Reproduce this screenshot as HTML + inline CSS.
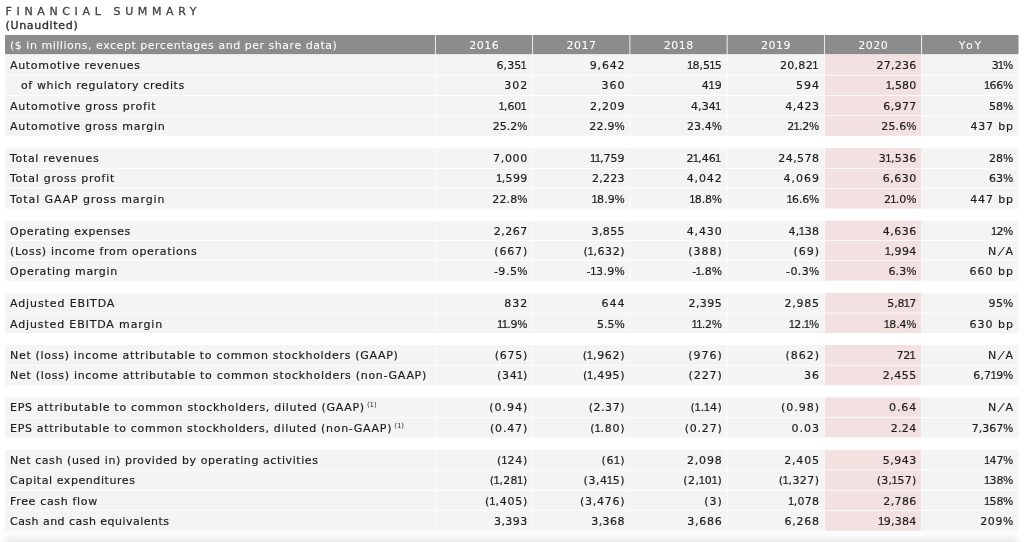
<!DOCTYPE html>
<html lang="en"><head><meta charset="utf-8"><title>Financial Summary</title>
<style>
html,body{margin:0;padding:0;background:#fff;}
body{width:1030px;height:542px;position:relative;overflow:hidden;font-family:"DejaVu Sans", "Liberation Sans", sans-serif;font-size:11px;color:#1e1e1e;}
svg.bg{position:absolute;left:0;top:0;}
.x{position:absolute;white-space:nowrap;line-height:20px;height:20px;}
.l{-webkit-text-stroke:0.2px #1e1e1e;}
.n{text-align:right;letter-spacing:0.3px;-webkit-text-stroke:0.2px #1e1e1e;}
.h{color:#fff;-webkit-text-stroke:0.05px #fff;}
.hc{text-align:center;letter-spacing:0.5px;}
.t{left:5.6px;top:1.5px;font-size:11px;letter-spacing:4.63px;color:#444;-webkit-text-stroke:0.3px #444;}
.u{left:5.4px;top:15.5px;font-size:11px;letter-spacing:0.7px;color:#333;-webkit-text-stroke:0.4px #333;}
.n i{font-style:normal;line-height:0;font-family:"Liberation Sans",sans-serif;font-size:11.2px;margin:0 -0.7px 0 -0.8px;}
.n i.e{margin-right:0.6px;}
.n b{font-weight:normal;line-height:0;font-family:"Liberation Sans",sans-serif;font-size:11px;margin:0 0px 0 0px;}
.n u{text-decoration:none;display:inline-block;line-height:0;transform:skewX(-20deg);margin:0 1.8px;}
sup{font-size:7px;line-height:0;vertical-align:baseline;position:relative;top:-3.8px;letter-spacing:0;margin-left:2px;-webkit-text-stroke:0;}
</style></head><body>
<svg class="bg" width="1030" height="542" viewBox="0 0 1030 542">
<rect x="5.00" y="35.00" width="429.97" height="19.40" fill="#8c8c8c"/>
<rect x="435.82" y="35.00" width="96.40" height="19.40" fill="#8c8c8c"/>
<rect x="533.07" y="35.00" width="96.40" height="19.40" fill="#8c8c8c"/>
<rect x="630.32" y="35.00" width="96.40" height="19.40" fill="#8c8c8c"/>
<rect x="727.57" y="35.00" width="96.40" height="19.40" fill="#8c8c8c"/>
<rect x="824.82" y="35.00" width="96.40" height="19.40" fill="#8c8c8c"/>
<rect x="922.07" y="35.00" width="96.43" height="19.40" fill="#8c8c8c"/>
<rect x="5.00" y="54.40" width="430.10" height="20.43" fill="#f4f4f4"/>
<rect x="435.70" y="54.40" width="96.65" height="20.43" fill="#f4f4f4"/>
<rect x="532.95" y="54.40" width="96.65" height="20.43" fill="#f4f4f4"/>
<rect x="630.20" y="54.40" width="96.65" height="20.43" fill="#f4f4f4"/>
<rect x="727.45" y="54.40" width="96.65" height="20.43" fill="#f4f4f4"/>
<rect x="824.70" y="54.40" width="96.65" height="20.43" fill="#f3e1e1"/>
<rect x="921.95" y="54.40" width="96.55" height="20.43" fill="#f4f4f4"/>
<rect x="5.00" y="75.58" width="430.10" height="19.45" fill="#f4f4f4"/>
<rect x="435.70" y="75.58" width="96.65" height="19.45" fill="#f4f4f4"/>
<rect x="532.95" y="75.58" width="96.65" height="19.45" fill="#f4f4f4"/>
<rect x="630.20" y="75.58" width="96.65" height="19.45" fill="#f4f4f4"/>
<rect x="727.45" y="75.58" width="96.65" height="19.45" fill="#f4f4f4"/>
<rect x="824.70" y="75.58" width="96.65" height="19.45" fill="#f3e1e1"/>
<rect x="921.95" y="75.58" width="96.55" height="19.45" fill="#f4f4f4"/>
<rect x="5.00" y="95.78" width="430.10" height="19.55" fill="#f4f4f4"/>
<rect x="435.70" y="95.78" width="96.65" height="19.55" fill="#f4f4f4"/>
<rect x="532.95" y="95.78" width="96.65" height="19.55" fill="#f4f4f4"/>
<rect x="630.20" y="95.78" width="96.65" height="19.55" fill="#f4f4f4"/>
<rect x="727.45" y="95.78" width="96.65" height="19.55" fill="#f4f4f4"/>
<rect x="824.70" y="95.78" width="96.65" height="19.55" fill="#f3e1e1"/>
<rect x="921.95" y="95.78" width="96.55" height="19.55" fill="#f4f4f4"/>
<rect x="5.00" y="116.08" width="430.10" height="19.73" fill="#f4f4f4"/>
<rect x="435.70" y="116.08" width="96.65" height="19.73" fill="#f4f4f4"/>
<rect x="532.95" y="116.08" width="96.65" height="19.73" fill="#f4f4f4"/>
<rect x="630.20" y="116.08" width="96.65" height="19.73" fill="#f4f4f4"/>
<rect x="727.45" y="116.08" width="96.65" height="19.73" fill="#f4f4f4"/>
<rect x="824.70" y="116.08" width="96.65" height="19.73" fill="#f3e1e1"/>
<rect x="921.95" y="116.08" width="96.55" height="19.73" fill="#f4f4f4"/>
<rect x="5.00" y="148.20" width="430.10" height="19.83" fill="#f4f4f4"/>
<rect x="435.70" y="148.20" width="96.65" height="19.83" fill="#f4f4f4"/>
<rect x="532.95" y="148.20" width="96.65" height="19.83" fill="#f4f4f4"/>
<rect x="630.20" y="148.20" width="96.65" height="19.83" fill="#f4f4f4"/>
<rect x="727.45" y="148.20" width="96.65" height="19.83" fill="#f4f4f4"/>
<rect x="824.70" y="148.20" width="96.65" height="19.83" fill="#f3e1e1"/>
<rect x="921.95" y="148.20" width="96.55" height="19.83" fill="#f4f4f4"/>
<rect x="5.00" y="168.78" width="430.10" height="19.35" fill="#f4f4f4"/>
<rect x="435.70" y="168.78" width="96.65" height="19.35" fill="#f4f4f4"/>
<rect x="532.95" y="168.78" width="96.65" height="19.35" fill="#f4f4f4"/>
<rect x="630.20" y="168.78" width="96.65" height="19.35" fill="#f4f4f4"/>
<rect x="727.45" y="168.78" width="96.65" height="19.35" fill="#f4f4f4"/>
<rect x="824.70" y="168.78" width="96.65" height="19.35" fill="#f3e1e1"/>
<rect x="921.95" y="168.78" width="96.55" height="19.35" fill="#f4f4f4"/>
<rect x="5.00" y="188.88" width="430.10" height="19.72" fill="#f4f4f4"/>
<rect x="435.70" y="188.88" width="96.65" height="19.72" fill="#f4f4f4"/>
<rect x="532.95" y="188.88" width="96.65" height="19.72" fill="#f4f4f4"/>
<rect x="630.20" y="188.88" width="96.65" height="19.72" fill="#f4f4f4"/>
<rect x="727.45" y="188.88" width="96.65" height="19.72" fill="#f4f4f4"/>
<rect x="824.70" y="188.88" width="96.65" height="19.72" fill="#f3e1e1"/>
<rect x="921.95" y="188.88" width="96.55" height="19.72" fill="#f4f4f4"/>
<rect x="5.00" y="220.70" width="430.10" height="19.53" fill="#f4f4f4"/>
<rect x="435.70" y="220.70" width="96.65" height="19.53" fill="#f4f4f4"/>
<rect x="532.95" y="220.70" width="96.65" height="19.53" fill="#f4f4f4"/>
<rect x="630.20" y="220.70" width="96.65" height="19.53" fill="#f4f4f4"/>
<rect x="727.45" y="220.70" width="96.65" height="19.53" fill="#f4f4f4"/>
<rect x="824.70" y="220.70" width="96.65" height="19.53" fill="#f3e1e1"/>
<rect x="921.95" y="220.70" width="96.55" height="19.53" fill="#f4f4f4"/>
<rect x="5.00" y="240.97" width="430.10" height="19.15" fill="#f4f4f4"/>
<rect x="435.70" y="240.97" width="96.65" height="19.15" fill="#f4f4f4"/>
<rect x="532.95" y="240.97" width="96.65" height="19.15" fill="#f4f4f4"/>
<rect x="630.20" y="240.97" width="96.65" height="19.15" fill="#f4f4f4"/>
<rect x="727.45" y="240.97" width="96.65" height="19.15" fill="#f4f4f4"/>
<rect x="824.70" y="240.97" width="96.65" height="19.15" fill="#f3e1e1"/>
<rect x="921.95" y="240.97" width="96.55" height="19.15" fill="#f4f4f4"/>
<rect x="5.00" y="260.88" width="430.10" height="19.82" fill="#f4f4f4"/>
<rect x="435.70" y="260.88" width="96.65" height="19.82" fill="#f4f4f4"/>
<rect x="532.95" y="260.88" width="96.65" height="19.82" fill="#f4f4f4"/>
<rect x="630.20" y="260.88" width="96.65" height="19.82" fill="#f4f4f4"/>
<rect x="727.45" y="260.88" width="96.65" height="19.82" fill="#f4f4f4"/>
<rect x="824.70" y="260.88" width="96.65" height="19.82" fill="#f3e1e1"/>
<rect x="921.95" y="260.88" width="96.55" height="19.82" fill="#f4f4f4"/>
<rect x="5.00" y="292.85" width="430.10" height="19.88" fill="#f4f4f4"/>
<rect x="435.70" y="292.85" width="96.65" height="19.88" fill="#f4f4f4"/>
<rect x="532.95" y="292.85" width="96.65" height="19.88" fill="#f4f4f4"/>
<rect x="630.20" y="292.85" width="96.65" height="19.88" fill="#f4f4f4"/>
<rect x="727.45" y="292.85" width="96.65" height="19.88" fill="#f4f4f4"/>
<rect x="824.70" y="292.85" width="96.65" height="19.88" fill="#f3e1e1"/>
<rect x="921.95" y="292.85" width="96.55" height="19.88" fill="#f4f4f4"/>
<rect x="5.00" y="313.48" width="430.10" height="19.62" fill="#f4f4f4"/>
<rect x="435.70" y="313.48" width="96.65" height="19.62" fill="#f4f4f4"/>
<rect x="532.95" y="313.48" width="96.65" height="19.62" fill="#f4f4f4"/>
<rect x="630.20" y="313.48" width="96.65" height="19.62" fill="#f4f4f4"/>
<rect x="727.45" y="313.48" width="96.65" height="19.62" fill="#f4f4f4"/>
<rect x="824.70" y="313.48" width="96.65" height="19.62" fill="#f3e1e1"/>
<rect x="921.95" y="313.48" width="96.55" height="19.62" fill="#f4f4f4"/>
<rect x="5.00" y="345.00" width="430.10" height="19.93" fill="#f4f4f4"/>
<rect x="435.70" y="345.00" width="96.65" height="19.93" fill="#f4f4f4"/>
<rect x="532.95" y="345.00" width="96.65" height="19.93" fill="#f4f4f4"/>
<rect x="630.20" y="345.00" width="96.65" height="19.93" fill="#f4f4f4"/>
<rect x="727.45" y="345.00" width="96.65" height="19.93" fill="#f4f4f4"/>
<rect x="824.70" y="345.00" width="96.65" height="19.93" fill="#f3e1e1"/>
<rect x="921.95" y="345.00" width="96.55" height="19.93" fill="#f4f4f4"/>
<rect x="5.00" y="365.68" width="430.10" height="19.68" fill="#f4f4f4"/>
<rect x="435.70" y="365.68" width="96.65" height="19.68" fill="#f4f4f4"/>
<rect x="532.95" y="365.68" width="96.65" height="19.68" fill="#f4f4f4"/>
<rect x="630.20" y="365.68" width="96.65" height="19.68" fill="#f4f4f4"/>
<rect x="727.45" y="365.68" width="96.65" height="19.68" fill="#f4f4f4"/>
<rect x="824.70" y="365.68" width="96.65" height="19.68" fill="#f3e1e1"/>
<rect x="921.95" y="365.68" width="96.55" height="19.68" fill="#f4f4f4"/>
<rect x="5.00" y="397.50" width="430.10" height="19.52" fill="#f4f4f4"/>
<rect x="435.70" y="397.50" width="96.65" height="19.52" fill="#f4f4f4"/>
<rect x="532.95" y="397.50" width="96.65" height="19.52" fill="#f4f4f4"/>
<rect x="630.20" y="397.50" width="96.65" height="19.52" fill="#f4f4f4"/>
<rect x="727.45" y="397.50" width="96.65" height="19.52" fill="#f4f4f4"/>
<rect x="824.70" y="397.50" width="96.65" height="19.52" fill="#f3e1e1"/>
<rect x="921.95" y="397.50" width="96.55" height="19.52" fill="#f4f4f4"/>
<rect x="5.00" y="417.77" width="430.10" height="19.73" fill="#f4f4f4"/>
<rect x="435.70" y="417.77" width="96.65" height="19.73" fill="#f4f4f4"/>
<rect x="532.95" y="417.77" width="96.65" height="19.73" fill="#f4f4f4"/>
<rect x="630.20" y="417.77" width="96.65" height="19.73" fill="#f4f4f4"/>
<rect x="727.45" y="417.77" width="96.65" height="19.73" fill="#f4f4f4"/>
<rect x="824.70" y="417.77" width="96.65" height="19.73" fill="#f3e1e1"/>
<rect x="921.95" y="417.77" width="96.55" height="19.73" fill="#f4f4f4"/>
<rect x="5.00" y="449.80" width="430.10" height="19.82" fill="#f4f4f4"/>
<rect x="435.70" y="449.80" width="96.65" height="19.82" fill="#f4f4f4"/>
<rect x="532.95" y="449.80" width="96.65" height="19.82" fill="#f4f4f4"/>
<rect x="630.20" y="449.80" width="96.65" height="19.82" fill="#f4f4f4"/>
<rect x="727.45" y="449.80" width="96.65" height="19.82" fill="#f4f4f4"/>
<rect x="824.70" y="449.80" width="96.65" height="19.82" fill="#f3e1e1"/>
<rect x="921.95" y="449.80" width="96.55" height="19.82" fill="#f4f4f4"/>
<rect x="5.00" y="470.38" width="430.10" height="19.65" fill="#f4f4f4"/>
<rect x="435.70" y="470.38" width="96.65" height="19.65" fill="#f4f4f4"/>
<rect x="532.95" y="470.38" width="96.65" height="19.65" fill="#f4f4f4"/>
<rect x="630.20" y="470.38" width="96.65" height="19.65" fill="#f4f4f4"/>
<rect x="727.45" y="470.38" width="96.65" height="19.65" fill="#f4f4f4"/>
<rect x="824.70" y="470.38" width="96.65" height="19.65" fill="#f3e1e1"/>
<rect x="921.95" y="470.38" width="96.55" height="19.65" fill="#f4f4f4"/>
<rect x="5.00" y="490.77" width="430.10" height="19.45" fill="#f4f4f4"/>
<rect x="435.70" y="490.77" width="96.65" height="19.45" fill="#f4f4f4"/>
<rect x="532.95" y="490.77" width="96.65" height="19.45" fill="#f4f4f4"/>
<rect x="630.20" y="490.77" width="96.65" height="19.45" fill="#f4f4f4"/>
<rect x="727.45" y="490.77" width="96.65" height="19.45" fill="#f4f4f4"/>
<rect x="824.70" y="490.77" width="96.65" height="19.45" fill="#f3e1e1"/>
<rect x="921.95" y="490.77" width="96.55" height="19.45" fill="#f4f4f4"/>
<rect x="5.00" y="510.98" width="430.10" height="19.73" fill="#f4f4f4"/>
<rect x="435.70" y="510.98" width="96.65" height="19.73" fill="#f4f4f4"/>
<rect x="532.95" y="510.98" width="96.65" height="19.73" fill="#f4f4f4"/>
<rect x="630.20" y="510.98" width="96.65" height="19.73" fill="#f4f4f4"/>
<rect x="727.45" y="510.98" width="96.65" height="19.73" fill="#f4f4f4"/>
<rect x="824.70" y="510.98" width="96.65" height="19.73" fill="#f3e1e1"/>
<rect x="921.95" y="510.98" width="96.55" height="19.73" fill="#f4f4f4"/>
<defs><filter id="sb" filterUnits="userSpaceOnUse" x="-40" y="480" width="1110" height="160"><feGaussianBlur stdDeviation="3 8"/></filter></defs>
<rect x="5" y="545" width="1013" height="60" fill="#000" fill-opacity="0.25" filter="url(#sb)"/>
</svg>

<div class="x t">FINANCIAL SUMMARY</div>
<div class="x u">(Unaudited)</div>
<div class="x h l" style="left:10.00px;top:36.09px;letter-spacing:0.525px;">($ in millions, except percentages and per share data)</div>
<div class="x h hc" style="left:435.40px;width:97.25px;top:36.09px;padding-left:0.5px;box-sizing:border-box;letter-spacing:0.5px;">2016</div>
<div class="x h hc" style="left:532.65px;width:97.25px;top:36.09px;padding-left:0.5px;box-sizing:border-box;letter-spacing:0.5px;">2017</div>
<div class="x h hc" style="left:629.90px;width:97.25px;top:36.09px;padding-left:0.5px;box-sizing:border-box;letter-spacing:0.5px;">2018</div>
<div class="x h hc" style="left:727.15px;width:97.25px;top:36.09px;padding-left:0.5px;box-sizing:border-box;letter-spacing:0.5px;">2019</div>
<div class="x h hc" style="left:824.40px;width:97.25px;top:36.09px;padding-left:0.5px;box-sizing:border-box;letter-spacing:0.5px;">2020</div>
<div class="x h hc" style="left:921.65px;width:96.85px;top:36.09px;padding-left:1.9px;box-sizing:border-box;letter-spacing:1.9px;">YoY</div>
<div class="x l" style="left:10.00px;top:55.69px;letter-spacing:0.675px;">Automotive revenues</div>
<div class="x n" style="left:435.40px;width:91.88px;top:55.69px;letter-spacing:0.030px;">6,35<i class="e">1</i></div>
<div class="x n" style="left:532.65px;width:92.64px;top:55.69px;letter-spacing:0.795px;">9,642</div>
<div class="x n" style="left:629.90px;width:91.83px;top:55.69px;letter-spacing:-0.024px;"><i>1</i>8,5<i>1</i>5</div>
<div class="x n" style="left:727.15px;width:92.15px;top:55.69px;letter-spacing:0.300px;">20,82<i class="e">1</i></div>
<div class="x n" style="left:824.40px;width:92.08px;top:55.69px;letter-spacing:0.228px;">27,236</div>
<div class="x n" style="left:921.65px;width:91.35px;top:55.69px;letter-spacing:-0.100px;">3<i>1</i><b>%</b></div>
<div class="x l" style="left:21.00px;top:75.69px;letter-spacing:0.617px;">of which regulatory credits</div>
<div class="x n" style="left:435.40px;width:92.85px;top:75.69px;letter-spacing:1.000px;">302</div>
<div class="x n" style="left:532.65px;width:92.85px;top:75.69px;letter-spacing:1.000px;">360</div>
<div class="x n" style="left:629.90px;width:92.49px;top:75.69px;letter-spacing:0.640px;">4<i>1</i>9</div>
<div class="x n" style="left:727.15px;width:92.85px;top:75.69px;letter-spacing:1.000px;">594</div>
<div class="x n" style="left:824.40px;width:91.97px;top:75.69px;letter-spacing:0.120px;"><i>1</i>,580</div>
<div class="x n" style="left:921.65px;width:91.38px;top:75.69px;letter-spacing:-0.070px;"><i>1</i>66<b>%</b></div>
<div class="x l" style="left:10.00px;top:96.69px;letter-spacing:0.743px;">Automotive gross profit</div>
<div class="x n" style="left:435.40px;width:91.75px;top:96.69px;letter-spacing:-0.100px;"><i>1</i>,60<i class="e">1</i></div>
<div class="x n" style="left:532.65px;width:92.60px;top:96.69px;letter-spacing:0.750px;">2,209</div>
<div class="x n" style="left:629.90px;width:91.88px;top:96.69px;letter-spacing:0.030px;">4,34<i class="e">1</i></div>
<div class="x n" style="left:727.15px;width:92.42px;top:96.69px;letter-spacing:0.570px;">4,423</div>
<div class="x n" style="left:824.40px;width:92.19px;top:96.69px;letter-spacing:0.345px;">6,977</div>
<div class="x n" style="left:921.65px;width:91.66px;top:96.69px;letter-spacing:0.210px;">58<b>%</b></div>
<div class="x l" style="left:10.00px;top:116.69px;letter-spacing:0.723px;">Automotive gross margin</div>
<div class="x n" style="left:435.40px;width:91.92px;top:116.69px;letter-spacing:0.075px;">25.2<b>%</b></div>
<div class="x n" style="left:532.65px;width:92.10px;top:116.69px;letter-spacing:0.255px;">22.9<b>%</b></div>
<div class="x n" style="left:629.90px;width:91.97px;top:116.69px;letter-spacing:0.120px;">23.4<b>%</b></div>
<div class="x n" style="left:727.15px;width:91.75px;top:116.69px;letter-spacing:-0.100px;">2<i>1</i>.2<b>%</b></div>
<div class="x n" style="left:824.40px;width:92.01px;top:116.69px;letter-spacing:0.165px;">25.6<b>%</b></div>
<div class="x n" style="left:921.65px;width:92.29px;top:116.69px;letter-spacing:0.840px;">437 bp</div>
<div class="x l" style="left:10.00px;top:148.69px;letter-spacing:0.669px;">Total revenues</div>
<div class="x n" style="left:435.40px;width:92.51px;top:148.69px;letter-spacing:0.660px;">7,000</div>
<div class="x n" style="left:532.65px;width:91.79px;top:148.69px;letter-spacing:-0.064px;"><i>1</i><i>1</i>,759</div>
<div class="x n" style="left:629.90px;width:91.86px;top:148.69px;letter-spacing:0.012px;">2<i>1</i>,46<i class="e">1</i></div>
<div class="x n" style="left:727.15px;width:92.29px;top:148.69px;letter-spacing:0.444px;">24,578</div>
<div class="x n" style="left:824.40px;width:92.08px;top:148.69px;letter-spacing:0.228px;">3<i>1</i>,536</div>
<div class="x n" style="left:921.65px;width:91.66px;top:148.69px;letter-spacing:0.210px;">28<b>%</b></div>
<div class="x l" style="left:10.00px;top:168.69px;letter-spacing:0.759px;">Total gross profit</div>
<div class="x n" style="left:435.40px;width:92.15px;top:168.69px;letter-spacing:0.300px;"><i>1</i>,599</div>
<div class="x n" style="left:532.65px;width:92.10px;top:168.69px;letter-spacing:0.255px;">2,223</div>
<div class="x n" style="left:629.90px;width:92.73px;top:168.69px;letter-spacing:0.885px;">4,042</div>
<div class="x n" style="left:727.15px;width:92.85px;top:168.69px;letter-spacing:1.000px;">4,069</div>
<div class="x n" style="left:824.40px;width:92.38px;top:168.69px;letter-spacing:0.525px;">6,630</div>
<div class="x n" style="left:921.65px;width:91.66px;top:168.69px;letter-spacing:0.210px;">63<b>%</b></div>
<div class="x l" style="left:10.00px;top:189.69px;letter-spacing:0.886px;">Total GAAP gross margin</div>
<div class="x n" style="left:435.40px;width:92.01px;top:189.69px;letter-spacing:0.165px;">22.8<b>%</b></div>
<div class="x n" style="left:532.65px;width:91.88px;top:189.69px;letter-spacing:0.030px;"><i>1</i>8.9<b>%</b></div>
<div class="x n" style="left:629.90px;width:91.75px;top:189.69px;letter-spacing:-0.100px;"><i>1</i>8.8<b>%</b></div>
<div class="x n" style="left:727.15px;width:91.75px;top:189.69px;letter-spacing:-0.100px;"><i>1</i>6.6<b>%</b></div>
<div class="x n" style="left:824.40px;width:91.92px;top:189.69px;letter-spacing:0.075px;">2<i>1</i>.0<b>%</b></div>
<div class="x n" style="left:921.65px;width:92.33px;top:189.69px;letter-spacing:0.876px;">447 bp</div>
<div class="x l" style="left:10.00px;top:221.69px;letter-spacing:0.574px;">Operating expenses</div>
<div class="x n" style="left:435.40px;width:92.33px;top:221.69px;letter-spacing:0.480px;">2,267</div>
<div class="x n" style="left:532.65px;width:92.19px;top:221.69px;letter-spacing:0.345px;">3,855</div>
<div class="x n" style="left:629.90px;width:92.73px;top:221.69px;letter-spacing:0.885px;">4,430</div>
<div class="x n" style="left:727.15px;width:92.15px;top:221.69px;letter-spacing:0.300px;">4,<i>1</i>38</div>
<div class="x n" style="left:824.40px;width:92.33px;top:221.69px;letter-spacing:0.480px;">4,636</div>
<div class="x n" style="left:921.65px;width:91.35px;top:221.69px;letter-spacing:-0.100px;"><i>1</i>2<b>%</b></div>
<div class="x l" style="left:10.00px;top:241.69px;letter-spacing:0.680px;">(Loss) income from operations</div>
<div class="x n" style="left:435.40px;width:92.69px;top:241.69px;letter-spacing:0.840px;">(667)</div>
<div class="x n" style="left:532.65px;width:92.39px;top:241.69px;letter-spacing:0.540px;">(<i>1</i>,632)</div>
<div class="x n" style="left:629.90px;width:92.85px;top:241.69px;letter-spacing:1.000px;">(388)</div>
<div class="x n" style="left:727.15px;width:92.85px;top:241.69px;letter-spacing:1.000px;">(69)</div>
<div class="x n" style="left:824.40px;width:92.19px;top:241.69px;letter-spacing:0.345px;"><i>1</i>,994</div>
<div class="x n" style="left:921.65px;width:92.45px;top:241.69px;letter-spacing:1.000px;">N<u>/</u>A</div>
<div class="x l" style="left:10.00px;top:261.69px;letter-spacing:0.660px;">Operating margin</div>
<div class="x n" style="left:435.40px;width:92.38px;top:261.69px;letter-spacing:0.525px;">-9.5<b>%</b></div>
<div class="x n" style="left:532.65px;width:92.22px;top:261.69px;letter-spacing:0.372px;">-<i>1</i>3.9<b>%</b></div>
<div class="x n" style="left:629.90px;width:91.97px;top:261.69px;letter-spacing:0.120px;">-<i>1</i>.8<b>%</b></div>
<div class="x n" style="left:727.15px;width:92.28px;top:261.69px;letter-spacing:0.435px;">-0.3<b>%</b></div>
<div class="x n" style="left:824.40px;width:92.03px;top:261.69px;letter-spacing:0.180px;">6.3<b>%</b></div>
<div class="x n" style="left:921.65px;width:92.45px;top:261.69px;letter-spacing:1.000px;">660 bp</div>
<div class="x l" style="left:10.00px;top:293.69px;letter-spacing:0.889px;">Adjusted EBITDA</div>
<div class="x n" style="left:435.40px;width:92.85px;top:293.69px;letter-spacing:1.000px;">832</div>
<div class="x n" style="left:532.65px;width:92.85px;top:293.69px;letter-spacing:1.000px;">644</div>
<div class="x n" style="left:629.90px;width:92.28px;top:293.69px;letter-spacing:0.435px;">2,395</div>
<div class="x n" style="left:727.15px;width:92.60px;top:293.69px;letter-spacing:0.750px;">2,985</div>
<div class="x n" style="left:824.40px;width:91.80px;top:293.69px;letter-spacing:-0.055px;">5,8<i>1</i>7</div>
<div class="x n" style="left:921.65px;width:91.84px;top:293.69px;letter-spacing:0.390px;">95<b>%</b></div>
<div class="x l" style="left:10.00px;top:314.69px;letter-spacing:0.857px;">Adjusted EBITDA margin</div>
<div class="x n" style="left:435.40px;width:91.75px;top:314.69px;letter-spacing:-0.100px;"><i>1</i><i>1</i>.9<b>%</b></div>
<div class="x n" style="left:532.65px;width:91.93px;top:314.69px;letter-spacing:0.080px;">5.5<b>%</b></div>
<div class="x n" style="left:629.90px;width:91.75px;top:314.69px;letter-spacing:-0.100px;"><i>1</i><i>1</i>.2<b>%</b></div>
<div class="x n" style="left:727.15px;width:91.75px;top:314.69px;letter-spacing:-0.100px;"><i>1</i>2.<i>1</i><b>%</b></div>
<div class="x n" style="left:824.40px;width:91.75px;top:314.69px;letter-spacing:-0.100px;"><i>1</i>8.4<b>%</b></div>
<div class="x n" style="left:921.65px;width:92.45px;top:314.69px;letter-spacing:1.000px;">630 bp</div>
<div class="x l" style="left:10.00px;top:345.69px;letter-spacing:0.699px;">Net (loss) income attributable to common stockholders (GAAP)</div>
<div class="x n" style="left:435.40px;width:92.60px;top:345.69px;letter-spacing:0.750px;">(675)</div>
<div class="x n" style="left:532.65px;width:92.51px;top:345.69px;letter-spacing:0.660px;">(<i>1</i>,962)</div>
<div class="x n" style="left:629.90px;width:92.85px;top:345.69px;letter-spacing:1.000px;">(976)</div>
<div class="x n" style="left:727.15px;width:92.85px;top:345.69px;letter-spacing:1.000px;">(862)</div>
<div class="x n" style="left:824.40px;width:91.75px;top:345.69px;letter-spacing:-0.100px;">72<i class="e">1</i></div>
<div class="x n" style="left:921.65px;width:92.45px;top:345.69px;letter-spacing:1.000px;">N<u>/</u>A</div>
<div class="x l" style="left:10.00px;top:365.69px;letter-spacing:0.707px;">Net (loss) income attributable to common stockholders (non-GAAP)</div>
<div class="x n" style="left:435.40px;width:92.55px;top:365.69px;letter-spacing:0.705px;">(34<i>1</i>)</div>
<div class="x n" style="left:532.65px;width:92.48px;top:365.69px;letter-spacing:0.630px;">(<i>1</i>,495)</div>
<div class="x n" style="left:629.90px;width:92.73px;top:365.69px;letter-spacing:0.885px;">(227)</div>
<div class="x n" style="left:727.15px;width:92.85px;top:365.69px;letter-spacing:1.000px;">36</div>
<div class="x n" style="left:824.40px;width:92.38px;top:365.69px;letter-spacing:0.525px;">2,455</div>
<div class="x n" style="left:921.65px;width:91.61px;top:365.69px;letter-spacing:0.156px;">6,7<i>1</i>9<b>%</b></div>
<div class="x l" style="left:10.00px;top:397.69px;letter-spacing:0.708px;">EPS attributable to common stockholders, diluted (GAAP)<sup>(1)</sup></div>
<div class="x n" style="left:435.40px;width:92.85px;top:397.69px;letter-spacing:1.000px;">(0.94)</div>
<div class="x n" style="left:532.65px;width:92.40px;top:397.69px;letter-spacing:0.552px;">(2.37)</div>
<div class="x n" style="left:629.90px;width:92.37px;top:397.69px;letter-spacing:0.516px;">(<i>1</i>.<i>1</i>4)</div>
<div class="x n" style="left:727.15px;width:92.85px;top:397.69px;letter-spacing:1.000px;">(0.98)</div>
<div class="x n" style="left:824.40px;width:92.75px;top:397.69px;letter-spacing:0.900px;">0.64</div>
<div class="x n" style="left:921.65px;width:92.45px;top:397.69px;letter-spacing:1.000px;">N<u>/</u>A</div>
<div class="x l" style="left:10.00px;top:418.69px;letter-spacing:0.698px;">EPS attributable to common stockholders, diluted (non-GAAP)<sup>(1)</sup></div>
<div class="x n" style="left:435.40px;width:92.69px;top:418.69px;letter-spacing:0.840px;">(0.47)</div>
<div class="x n" style="left:532.65px;width:92.55px;top:418.69px;letter-spacing:0.696px;">(<i>1</i>.80)</div>
<div class="x n" style="left:629.90px;width:92.65px;top:418.69px;letter-spacing:0.804px;">(0.27)</div>
<div class="x n" style="left:727.15px;width:92.85px;top:418.69px;letter-spacing:1.000px;">0.03</div>
<div class="x n" style="left:824.40px;width:92.21px;top:418.69px;letter-spacing:0.360px;">2.24</div>
<div class="x n" style="left:921.65px;width:91.46px;top:418.69px;letter-spacing:0.012px;">7,367<b>%</b></div>
<div class="x l" style="left:10.00px;top:450.69px;letter-spacing:0.582px;">Net cash (used in) provided by operating activities</div>
<div class="x n" style="left:435.40px;width:92.55px;top:450.69px;letter-spacing:0.705px;">(<i>1</i>24)</div>
<div class="x n" style="left:532.65px;width:92.76px;top:450.69px;letter-spacing:0.910px;">(6<i>1</i>)</div>
<div class="x n" style="left:629.90px;width:92.69px;top:450.69px;letter-spacing:0.840px;">2,098</div>
<div class="x n" style="left:727.15px;width:92.69px;top:450.69px;letter-spacing:0.840px;">2,405</div>
<div class="x n" style="left:824.40px;width:92.33px;top:450.69px;letter-spacing:0.480px;">5,943</div>
<div class="x n" style="left:921.65px;width:91.35px;top:450.69px;letter-spacing:-0.100px;"><i>1</i>47<b>%</b></div>
<div class="x l" style="left:10.00px;top:470.69px;letter-spacing:0.576px;">Capital expenditures</div>
<div class="x n" style="left:435.40px;width:92.18px;top:470.69px;letter-spacing:0.330px;">(<i>1</i>,28<i>1</i>)</div>
<div class="x n" style="left:532.65px;width:92.36px;top:470.69px;letter-spacing:0.510px;">(3,4<i>1</i>5)</div>
<div class="x n" style="left:629.90px;width:92.33px;top:470.69px;letter-spacing:0.480px;">(2,<i>1</i>0<i>1</i>)</div>
<div class="x n" style="left:727.15px;width:92.27px;top:470.69px;letter-spacing:0.420px;">(<i>1</i>,327)</div>
<div class="x n" style="left:824.40px;width:92.12px;top:470.69px;letter-spacing:0.270px;">(3,<i>1</i>57)</div>
<div class="x n" style="left:921.65px;width:91.35px;top:470.69px;letter-spacing:-0.100px;"><i>1</i>38<b>%</b></div>
<div class="x l" style="left:10.00px;top:491.69px;letter-spacing:0.669px;">Free cash flow</div>
<div class="x n" style="left:435.40px;width:92.57px;top:491.69px;letter-spacing:0.720px;">(<i>1</i>,405)</div>
<div class="x n" style="left:532.65px;width:92.57px;top:491.69px;letter-spacing:0.720px;">(3,476)</div>
<div class="x n" style="left:629.90px;width:92.85px;top:491.69px;letter-spacing:1.000px;">(3)</div>
<div class="x n" style="left:727.15px;width:92.10px;top:491.69px;letter-spacing:0.255px;"><i>1</i>,078</div>
<div class="x n" style="left:824.40px;width:92.19px;top:491.69px;letter-spacing:0.345px;">2,786</div>
<div class="x n" style="left:921.65px;width:91.35px;top:491.69px;letter-spacing:-0.100px;"><i>1</i>58<b>%</b></div>
<div class="x l" style="left:10.00px;top:511.69px;letter-spacing:0.469px;">Cash and cash equivalents</div>
<div class="x n" style="left:435.40px;width:92.28px;top:511.69px;letter-spacing:0.435px;">3,393</div>
<div class="x n" style="left:532.65px;width:92.28px;top:511.69px;letter-spacing:0.435px;">3,368</div>
<div class="x n" style="left:629.90px;width:92.60px;top:511.69px;letter-spacing:0.750px;">3,686</div>
<div class="x n" style="left:727.15px;width:92.60px;top:511.69px;letter-spacing:0.750px;">6,268</div>
<div class="x n" style="left:824.40px;width:92.08px;top:511.69px;letter-spacing:0.228px;"><i>1</i>9,384</div>
<div class="x n" style="left:921.65px;width:92.17px;top:511.69px;letter-spacing:0.720px;">209<b>%</b></div>
</body></html>
